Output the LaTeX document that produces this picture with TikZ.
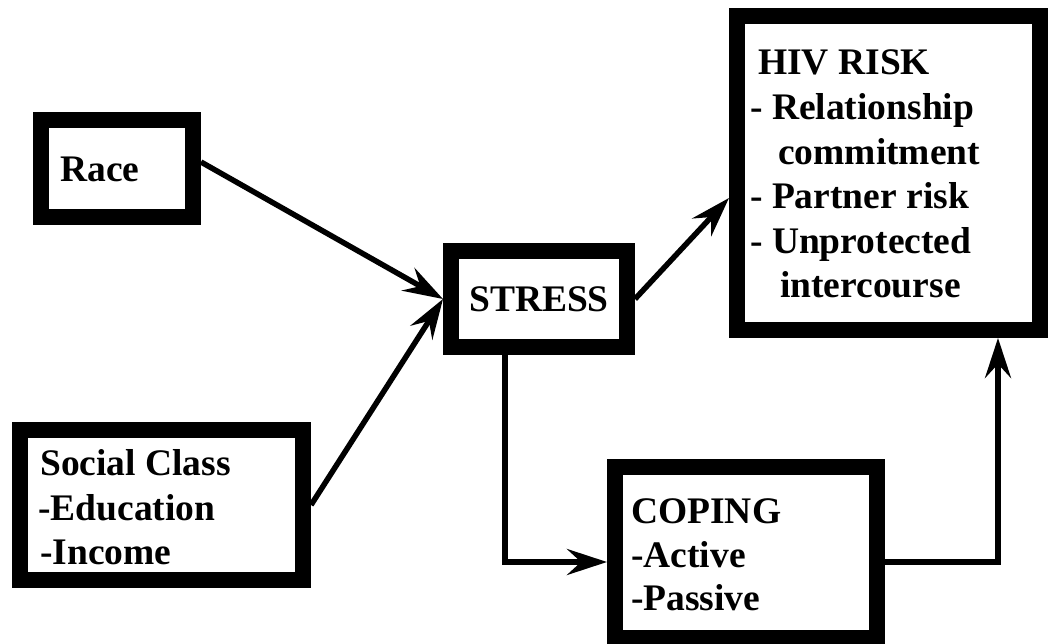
\documentclass[tikz,border=0pt]{standalone}
\usepackage{fontspec}
\setmainfont{Liberation Serif}
\usetikzlibrary{arrows.meta,calc}
\begin{document}
\begin{tikzpicture}[x=1pt,y=-1pt,
  box/.style={draw=black, line width=16pt, inner sep=0pt, outer sep=8pt},
  txt/.style={anchor=base west, inner sep=0pt, font=\bfseries\fontsize{37.5}{45}\selectfont},
  conn/.style={line width=5.5pt, -{Stealth[length=40pt,width=26pt,inset=14pt]}}
]
\useasboundingbox (0,0) rectangle (1050,644);
\fill[white] (0,0) rectangle (1050,644);

% boxes
\node[box, minimum width=152pt, minimum height=97pt] (race) at (117,168.5) {};
\node[box, minimum width=283pt, minimum height=150pt] (social) at (161.5,505) {};
\node[box, minimum width=176pt, minimum height=96pt,
      font=\bfseries\fontsize{37.5}{45}\selectfont] (stress) at (539,299) {STRESS};
\node[box, minimum width=303pt, minimum height=314pt] (hiv) at (888.5,173) {};
\node[box, minimum width=262pt, minimum height=171pt] (coping) at (746,552.5) {};

% texts
\node[txt] (raceT) at (60,182) {Race};

\node[txt] (socT1) at (40,475) {Social Class};
\node[txt] (socT2) at (38,520) {-Education};
\node[txt] (socT3) at (40,564.6) {-Income};

\node[txt] (hivT1) at (758,75) {HIV RISK};
\node[txt] (hivT2) at (750,119.6) {- Relationship};
\node[txt] (hivT3) at (778,164.2) {commitment};
\node[txt] (hivT4) at (750,208.8) {- Partner risk};
\node[txt] (hivT5) at (750,253.4) {- Unprotected};
\node[txt] (hivT6) at (780,298) {intercourse};

\node[txt] (copT1) at (631,523) {COPING};
\node[txt] (copT2) at (631,567) {-Active};
\node[txt] (copT3) at (631,610) {-Passive};

% connectors
\draw[conn] ($(race.east)+(0,-6.5)$) -- (stress.west);
\draw[conn] (social.east) -- (stress.west);
\draw[conn] (stress.east) -- ($(hiv.west)+(0,25)$);
\draw[conn] ($(stress.south)+(-34,0)$) |- ($(coping.west)+(0,9.5)$);
\draw[conn] ($(coping.east)+(0,9.5)$) -| ($(hiv.south)+(109.5,0)$);
\end{tikzpicture}
\end{document}
